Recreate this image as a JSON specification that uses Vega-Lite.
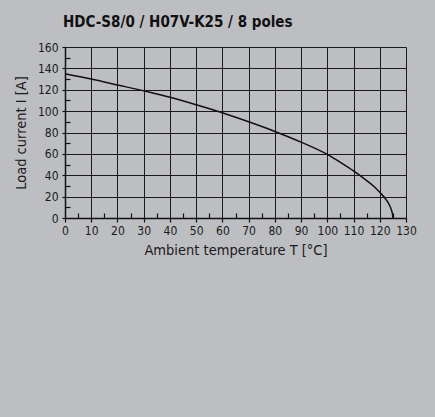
{
  "$schema": "https://vega.github.io/schema/vega-lite/v6.json",
  "autosize": "none",
  "width": 341,
  "height": 171,
  "padding": {"left": 65, "top": 47, "right": 29, "bottom": 199},
  "background": "#bdbec2",
  "title": {
    "text": "HDC-S8/0 / H07V-K25 / 8 poles",
    "anchor": "start",
    "frame": "group",
    "font": "Liberation Sans Narrow, DejaVu Sans Condensed, sans-serif",
    "fontSize": 15,
    "fontWeight": "bold",
    "color": "#111111",
    "offset": 11,
    "dx": -2
  },
  "config": {
    "view": {"stroke": null},
    "axis": {
      "labelFont": "Liberation Sans Narrow, DejaVu Sans Condensed, sans-serif",
      "titleFont": "Liberation Sans Narrow, DejaVu Sans Condensed, sans-serif",
      "labelFontSize": 12,
      "titleFontSize": 14.5,
      "titleFontWeight": "normal",
      "labelColor": "#1a1a1a",
      "titleColor": "#1a1a1a",
      "domainColor": "#111111",
      "domainWidth": 1.5,
      "gridColor": "#1a1a1a",
      "gridWidth": 1,
      "tickColor": "#111111",
      "tickWidth": 1.2
    }
  },
  "data": {
    "values": [
      {"T": 0, "I": 135},
      {"T": 10, "I": 130},
      {"T": 20, "I": 124.5},
      {"T": 30, "I": 119},
      {"T": 40, "I": 113},
      {"T": 50, "I": 106},
      {"T": 60, "I": 98.5},
      {"T": 70, "I": 90},
      {"T": 80, "I": 81},
      {"T": 90, "I": 71},
      {"T": 100, "I": 59.5},
      {"T": 105, "I": 52},
      {"T": 110, "I": 44},
      {"T": 115, "I": 35},
      {"T": 118, "I": 29},
      {"T": 120, "I": 24},
      {"T": 122, "I": 18.5},
      {"T": 123.5, "I": 13},
      {"T": 124.5, "I": 7},
      {"T": 124.9, "I": 3},
      {"T": 125, "I": 0}
    ]
  },
  "mark": {"type": "line", "color": "#111111", "strokeWidth": 1.5, "interpolate": "monotone"},
  "encoding": {
    "x": {
      "field": "T",
      "type": "quantitative",
      "scale": {"domain": [0, 130], "nice": false},
      "axis": {
        "title": "Ambient temperature T [°C]",
        "values": [0,5,10,15,20,25,30,35,40,45,50,55,60,65,70,75,80,85,90,95,100,105,110,115,120,125,130],
        "labelExpr": "datum.value % 10 === 0 ? datum.label : ''",
        "gridOpacity": {"condition": {"test": "datum.value % 10 === 0", "value": 1}, "value": 0},
        "tickSize": {"condition": {"test": "datum.value % 10 === 0", "value": 4}, "value": -5},
        "labelPadding": 3,
        "titlePadding": 7,
        "labelFlush": false
      }
    },
    "y": {
      "field": "I",
      "type": "quantitative",
      "scale": {"domain": [0, 160], "nice": false},
      "axis": {
        "title": "Load current I [A]",
        "values": [0,10,20,30,40,50,60,70,80,90,100,110,120,130,140,150,160],
        "labelExpr": "datum.value % 20 === 0 ? datum.label : ''",
        "gridOpacity": {"condition": {"test": "datum.value % 20 === 0", "value": 1}, "value": 0},
        "tickSize": {"condition": {"test": "datum.value % 20 === 0", "value": 3}, "value": -5},
        "labelPadding": 4,
        "titlePadding": 9,
        "labelFlush": false
      }
    }
  }
}
